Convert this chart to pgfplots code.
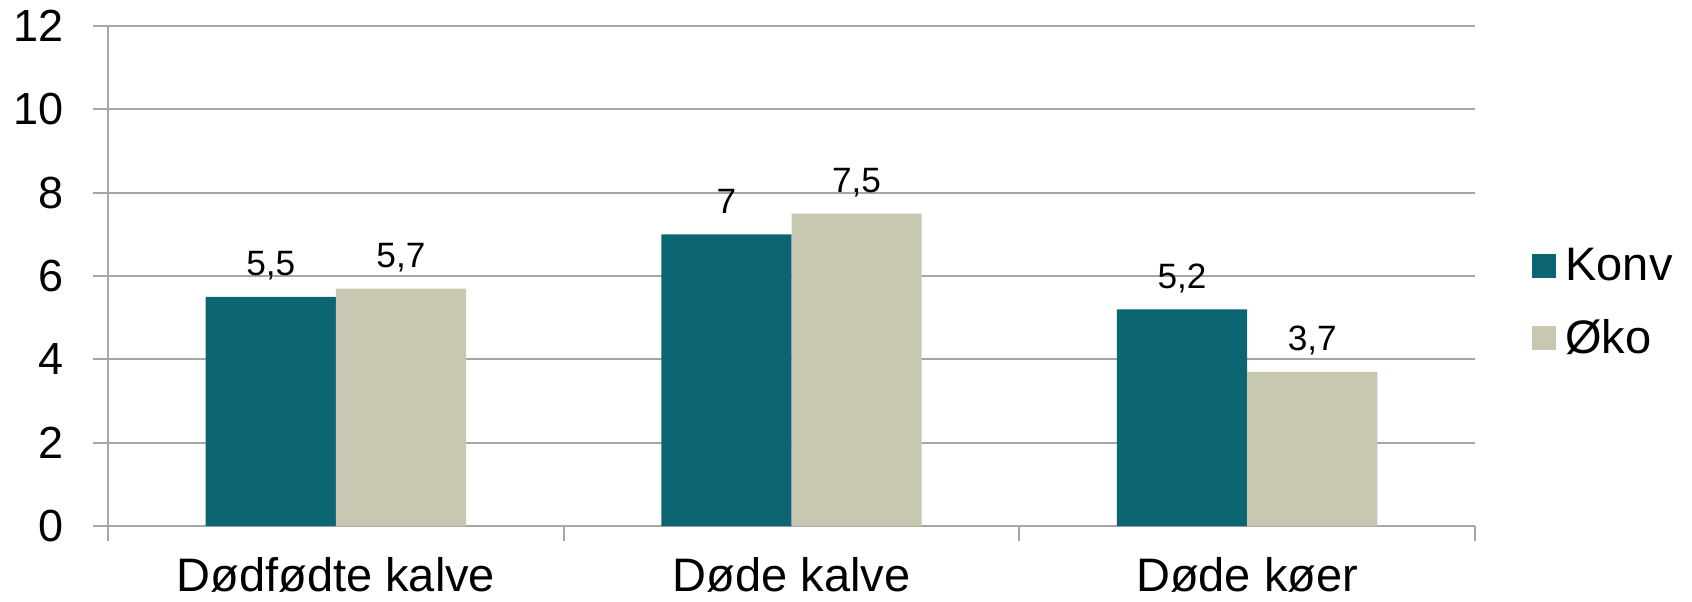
\documentclass[border=0pt]{standalone}
\usepackage{fontspec}
\setmainfont{Liberation Sans}
\usepackage{pgfplots}
\pgfplotsset{compat=1.18}
\definecolor{konv}{HTML}{0B6572}
\definecolor{oko}{HTML}{C8C8B2}
\definecolor{gridc}{HTML}{A6A6A6}
\begin{document}
\begin{tikzpicture}
\begin{axis}[
  at={(0,0)}, anchor=south west,
  scale only axis, width=683.5pt, height=250pt,
  xmin=-0.5, xmax=2.5, ymin=0, ymax=12,
  ytick={0,2,...,12},
  xtick={-0.5,0.5,1.5,2.5}, xticklabels={},
  extra x ticks={0,1,2},
  extra x tick labels={Dødfødte kalve, Døde kalve, Døde køer},
  extra x tick style={tickwidth=0pt},
  axis x line*=bottom, axis y line*=left,
  axis line style={gridc, line width=1pt, -},
  ymajorgrids, grid style={gridc, line width=1pt},
  tick style={gridc, line width=1pt},
  tick align=outside, major tick length=7.5pt,
  /pgf/number format/.cd, use comma, assume math mode=true, /pgfplots/.cd,
  yticklabel style={font=\fontsize{22.5}{27}\selectfont, inner sep=0pt, anchor=east, xshift=-14.5pt},
  xticklabel style={font=\fontsize{23.5}{28}\selectfont, inner sep=0pt, anchor=base, yshift=-32.5pt},
  ybar, bar width=65.1pt,
  nodes near coords,
  every node near coord/.append style={font=\fontsize{17.6}{21}\selectfont, anchor=base, inner sep=0pt, yshift=10.5pt, black},
  legend style={draw=none, fill=none, at={(1.0417,0.447)}, anchor=west, inner sep=0pt,
    font=\fontsize{23.5}{28}\selectfont, row sep=18pt, nodes={inner sep=0pt},
    /tikz/every odd column/.style={column sep=4.5pt}},
  legend cell align=left,
  legend image code/.code={\fill[#1] (0pt,-6pt) rectangle (12pt,6pt);},
]
\addplot[fill=konv, draw=none, bar shift=-32.55pt] coordinates {(0,5.5) (1,7) (2,5.2)};
\addplot[fill=oko, draw=none, bar shift=32.55pt] coordinates {(0,5.7) (1,7.5) (2,3.7)};
\legend{Konv, Øko}
\end{axis}
\pgfresetboundingbox
\useasboundingbox (-54pt,-37.5pt) rectangle (792pt,263pt);
\end{tikzpicture}
\end{document}
